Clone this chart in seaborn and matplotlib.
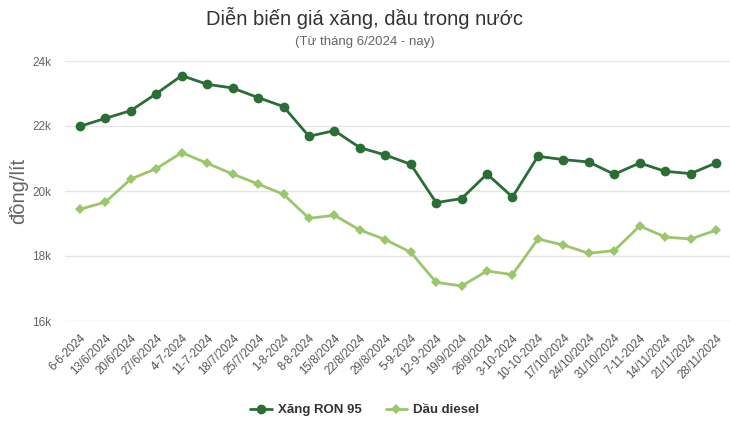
import matplotlib
matplotlib.use("Agg")
import matplotlib.pyplot as plt
import seaborn as sns
import pandas as pd
import numpy as np

dates = ["6-6-2024", "13/6/2024", "20/6/2024", "27/6/2024", "4-7-2024", "11-7-2024",
         "18/7/2024", "25/7/2024", "1-8-2024", "8-8-2024", "15/8/2024", "22/8/2024",
         "29/8/2024", "5-9-2024", "12-9-2024", "19/9/2024", "26/9/2024", "3-10-2024",
         "10-10-2024", "17/10/2024", "24/10/2024", "31/10/2024", "7-11-2024",
         "14/11/2024", "21/11/2024", "28/11/2024"]
ron95 = [21990, 22237, 22474, 22997, 23551, 23283, 23169, 22874, 22597, 21683,
         21858, 21335, 21108, 20822, 19643, 19766, 20523, 19815, 21068, 20966,
         20892, 20514, 20862, 20606, 20535, 20862]
diesel = [19437, 19662, 20369, 20689, 21182, 20852, 20523, 20215, 19898, 19160,
          19252, 18800, 18505, 18114, 17191, 17077, 17538, 17428, 18523, 18338,
          18083, 18166, 18923, 18585, 18523, 18791]
series_names = ["Xăng RON 95", "Dầu diesel"]
yticks = [16000, 18000, 20000, 22000, 24000]
ytick_labels = ["16k", "18k", "20k", "22k", "24k"]

sns.set_theme(style="white")
plt.rcParams['font.family'] = ['Liberation Sans', 'DejaVu Sans']

fig = plt.figure(figsize=(7.3, 4.22), dpi=100)
ax = fig.add_axes([65/730, 1-321/422, 1-65/730, (321-61)/422])

idx = np.arange(len(dates))
df = pd.DataFrame({"i": np.concatenate([idx, idx]),
                   "v": ron95 + diesel,
                   "s": [series_names[0]]*len(dates) + [series_names[1]]*len(dates)})

c_dark = "#2a6e36"
c_light = "#9cc66b"
sns.lineplot(data=df[df.s == series_names[0]], x="i", y="v", ax=ax, color=c_dark,
             marker="o", markersize=7, markeredgewidth=0, linewidth=2, label=series_names[0])
sns.lineplot(data=df[df.s == series_names[1]], x="i", y="v", ax=ax, color=c_light,
             marker="D", markersize=5, markeredgewidth=0, linewidth=2, label=series_names[1])

ax.set_xlim(-0.59, len(dates) - 1 + 0.55)
ax.set_ylim(16000, 24000)
ax.set_yticks(yticks)
ax.set_yticklabels(ytick_labels, fontsize=8.5, color="#666666")
ax.set_xticks(idx)
ax.set_xticklabels(dates, rotation=45, ha="right", rotation_mode="anchor",
                   fontsize=8.3, color="#555555")
for lbl in ax.get_xticklabels():
    lbl.set_x(lbl.get_position()[0])
ax.tick_params(axis="x", length=0, pad=8)
ax.tick_params(axis="y", length=0, pad=10)
ax.grid(axis="y", color="#e6e6e6", linewidth=1)
for sp in ax.spines.values():
    sp.set_visible(False)
ax.set_xlabel("")
ax.set_ylabel("đồng/lít", fontsize=14.5, color="#666666")
ax.yaxis.set_label_coords(-0.056, 0.5)

fig.text(0.5, 1-18/422, "Diễn biến giá xăng, dầu trong nước", ha="center", va="center",
         fontsize=14.5, color="#333333")
fig.text(0.5, 1-42/422, "(Từ tháng 6/2024 - nay)", ha="center", va="center",
         fontsize=9.5, color="#666666")

leg = ax.legend(loc="center", ncol=2, frameon=False,
                prop={"weight": "bold", "size": 9.5},
                handlelength=1.6, columnspacing=1.8, handletextpad=0.5)
leg.set_bbox_to_anchor((0.5, 1-410/422), transform=fig.transFigure)
for t in leg.get_texts():
    t.set_color("#333333")

fig.savefig("out.png", dpi=100)
